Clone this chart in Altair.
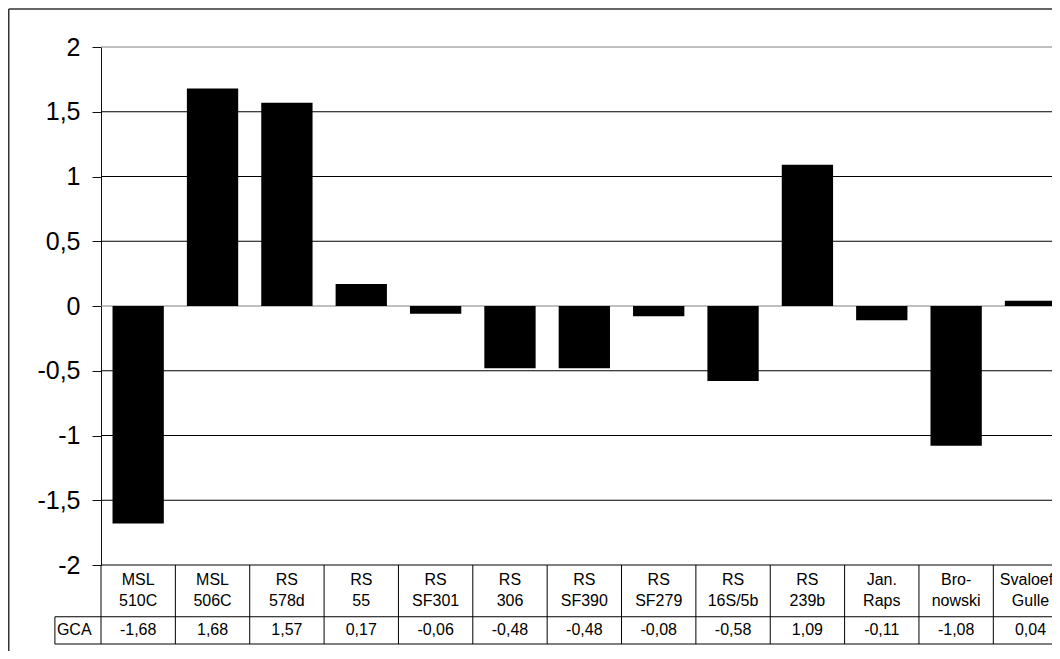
import altair as alt
import pandas as pd

# ---- data -------------------------------------------------------------
name_line1 = ["MSL", "MSL", "RS", "RS", "RS", "RS", "RS", "RS", "RS", "RS", "Jan.", "Bro-", "Svaloefs"]
name_line2 = ["510C", "506C", "578d", "55", "SF301", "306", "SF390", "SF279", "16S/5b", "239b", "Raps", "nowski", "Gulle"]
gca_values = [-1.68, 1.68, 1.57, 0.17, -0.06, -0.48, -0.48, -0.08, -0.58, 1.09, -0.11, -1.08, 0.04]
y_ticks = [-2, -1.5, -1, -0.5, 0, 0.5, 1, 1.5, 2]
row_label = "GCA"

# ---- layout -----------------------------------------------------------
COL_W = 74.36          # pixel width of one category column
PAD_L, PAD_T, PAD_B = 93, 39, 86
W = 1044 - PAD_L       # visible plot width (last column is cut off)
H = 518                # bar plot height
HB = 79                # data table height
YB_MAX = 2.9           # table scale: GCA row 0..1, names row 1..2.9
XMAX = W / COL_W
FONT = "Liberation Sans"
GCA_LEFT = -0.62       # left edge of the "GCA" header cell (in column units)
LINE_H = 21

df = pd.DataFrame({
    "idx": list(range(len(gca_values))),
    "l1": name_line1,
    "l2": name_line2,
    "v": gca_values,
})

xs = alt.Scale(domain=[0, XMAX], nice=False, zero=False)
ys = alt.Scale(domain=[-2, 2], nice=False, zero=False)
ybs = alt.Scale(domain=[0, YB_MAX], range=[H + HB, H], nice=False, zero=False)

base = alt.Chart(df).transform_calculate(
    x0="datum.idx + 0.155",
    x1="datum.idx + 0.845",
    xc="datum.idx + 0.5",
    name="datum.l1 + '\\n' + datum.l2",
    lab="replace(replace(format(datum.v, '.2f'), '.', ','), '\u2212', '-')",
)

# ---- bar chart ---------------------------------------------------------
grid = alt.Chart(pd.DataFrame({"t": y_ticks})).mark_rule(strokeWidth=1).encode(
    y=alt.Y(
        "t:Q",
        scale=ys,
        axis=alt.Axis(
            values=y_ticks,
            format="~g",
            grid=False,
            title=None,
            tickSize=9,
            tickColor="#111111",
            domainColor="#111111",
            labelFont=FONT,
            labelFontSize=25,
            labelColor="#000000",
            labelPadding=12,
            labelExpr="replace(replace(datum.label, '.', ','), '\u2212', '-')",
        ),
    ),
    color=alt.condition(
        "datum.t == 0 || datum.t == 2", alt.value("#808080"), alt.value("#000000")
    ),
)

bars = base.mark_rect(color="#000000").encode(
    x=alt.X("x0:Q", scale=xs, axis=None),
    x2="x1:Q",
    y=alt.Y("v:Q", scale=ys, axis=None),
    y2=alt.datum(0),
)

frame_df = pd.DataFrame({"a": [0]})
frame_top = alt.Chart(frame_df).mark_rule(color="#333333", strokeWidth=1.5).encode(
    x=alt.value(-PAD_L + 0.75), x2=alt.value(W), y=alt.value(-PAD_T + 1)
)
frame_left = alt.Chart(frame_df).mark_rule(color="#333333", strokeWidth=1.5).encode(
    x=alt.value(-PAD_L + 0.75), y=alt.value(-PAD_T + 1), y2=alt.value(H + PAD_B)
)

# ---- data table --------------------------------------------------------
vlines = base.mark_rule(color="#000000", strokeWidth=1).encode(
    x=alt.X("idx:Q", scale=xs, axis=None),
    y=alt.Y(datum=0, scale=ybs, axis=None),
    y2=alt.datum(YB_MAX),
)
cell_left = alt.Chart(frame_df).mark_rule(color="#000000", strokeWidth=1).encode(
    x=alt.X(datum=GCA_LEFT, scale=xs, axis=None),
    y=alt.Y(datum=0, scale=ybs, axis=None),
    y2=alt.datum(1),
)
hlines = alt.Chart(pd.DataFrame({"b": [0, 1]})).mark_rule(color="#000000", strokeWidth=1).encode(
    x=alt.X(datum=GCA_LEFT, scale=xs, axis=None),
    x2=alt.datum(XMAX),
    y=alt.Y("b:Q", scale=ybs, axis=None),
)
names = base.mark_text(
    font=FONT, fontSize=16, lineBreak="\n", lineHeight=LINE_H, color="#000000",
    baseline="middle", dy=-LINE_H / 2,
).encode(
    x=alt.X("xc:Q", scale=xs, axis=None),
    y=alt.Y(datum=(1 + YB_MAX) / 2, scale=ybs, axis=None),
    text="name:N",
)
vals = base.mark_text(font=FONT, fontSize=16, color="#000000").encode(
    x=alt.X("xc:Q", scale=xs, axis=None),
    y=alt.Y(datum=0.5, scale=ybs, axis=None),
    text="lab:N",
)
gca_lab = alt.Chart(pd.DataFrame({"r": [row_label]})).mark_text(
    font=FONT, fontSize=16, color="#000000", align="left", dx=2
).encode(
    x=alt.X(datum=GCA_LEFT, scale=xs, axis=None),
    y=alt.Y(datum=0.5, scale=ybs, axis=None),
    text="r:N",
)

chart = (
    alt.layer(grid, bars, frame_top, frame_left, vlines, cell_left, hlines, names, vals, gca_lab)
    .resolve_scale(y="independent")
    .properties(
        width=W,
        height=H,
        autosize=alt.AutoSizeParams(type="none"),
        padding={"left": PAD_L, "top": PAD_T, "right": 0, "bottom": PAD_B},
    )
    .configure_view(stroke=None)
)

chart.save("out.html", embed_options={"renderer": "svg", "actions": False})
